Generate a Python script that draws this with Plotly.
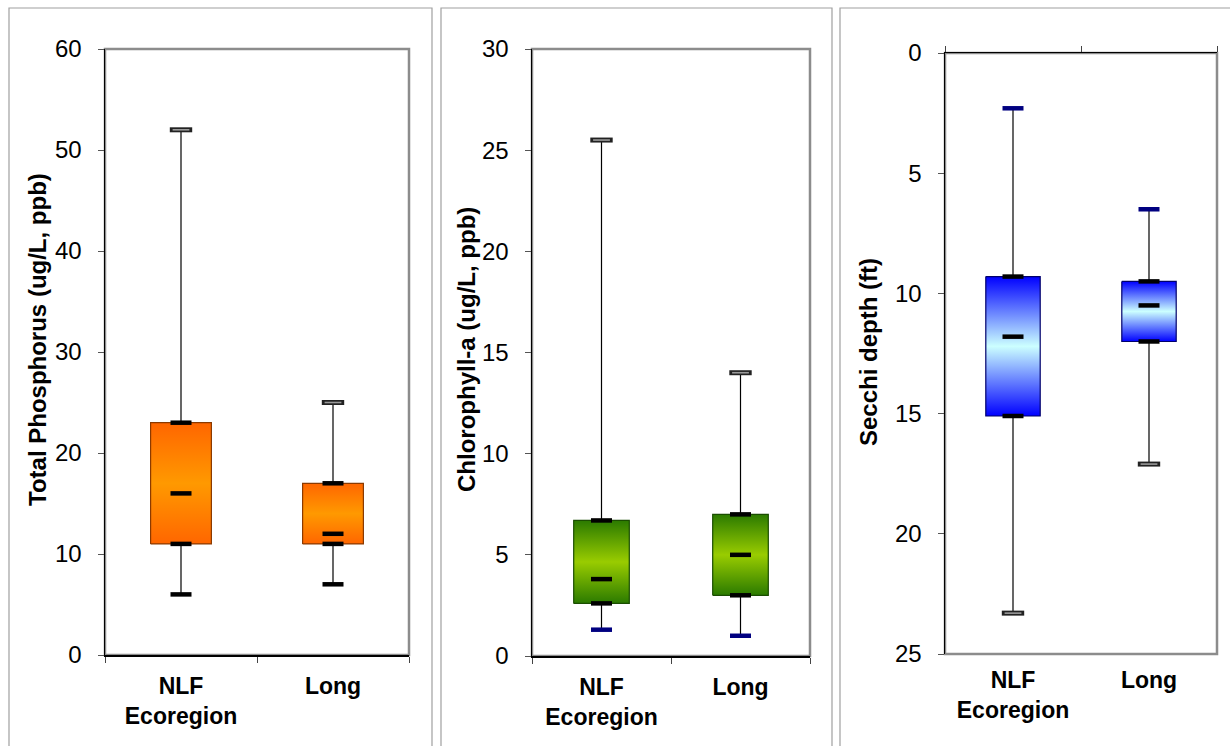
import plotly.graph_objects as go

W, H = 1230, 746

categories = ["<b>NLF</b><br><b>Ecoregion</b>", "<b>Long</b>"]

tp_min = [6, 7]
tp_q1 = [11, 11]
tp_med = [16, 12]
tp_q3 = [23, 17]
tp_max = [52, 25]

chl_min = [1.3, 1.0]
chl_q1 = [2.6, 3.0]
chl_med = [3.8, 5.0]
chl_q3 = [6.7, 7.0]
chl_max = [25.5, 14.0]

sec_min = [2.3, 6.5]
sec_q1 = [9.3, 9.5]
sec_med = [11.8, 10.5]
sec_q3 = [15.1, 12.0]
sec_max = [23.3, 17.1]

titles = ["Total Phosphorus (ug/L, ppb)", "Chlorophyll-a (ug/L, ppb)", "Secchi depth (ft)"]

FONT = "Arial, Liberation Sans, sans-serif"
HALF = 0.2

fig = go.Figure()


def px_x(p):
    return p / W


def px_y(p):
    return 1 - p / H


panels = [
    dict(data=(tp_min, tp_q1, tp_med, tp_q3, tp_max), xd=(105, 409), yd=(49, 655),
         rng=[0, 60], dt=10, xa="x", ya="y",
         cs=[[0, "#FF6600"], [0.5, "#FF9900"], [1, "#FF6600"]], edge="#8B3A00",
         lowcol="#000000"),
    dict(data=(chl_min, chl_q1, chl_med, chl_q3, chl_max), xd=(532, 810), yd=(49, 656),
         rng=[0, 30], dt=5, xa="x2", ya="y2",
         cs=[[0, "#2B7A00"], [0.5, "#99CC00"], [1, "#2B7A00"]], edge="#1A4D00",
         lowcol="#000080"),
    dict(data=(sec_min, sec_q1, sec_med, sec_q3, sec_max), xd=(945, 1217), yd=(53, 654),
         rng=[25, 0], dt=5, xa="x3", ya="y3",
         cs=[[0, "#0000FF"], [0.5, "#CCFFFF"], [1, "#0000FF"]], edge="#00006B",
         lowcol="#000080"),
]

xs = list(range(len(categories)))

for k, p in enumerate(panels):
    mn, q1, md, q3, mx = p["data"]
    xa, ya = p["xa"], p["ya"]
    # whiskers
    for i in xs:
        fig.add_trace(go.Scatter(x=[i, i], y=[mn[i], mx[i]], mode="lines",
                                 line=dict(color="black", width=1.2),
                                 xaxis=xa, yaxis=ya, showlegend=False, hoverinfo="skip"))
    # boxes
    for i in xs:
        fig.add_trace(go.Scatter(
            x=[i - HALF, i + HALF, i + HALF, i - HALF, i - HALF],
            y=[q1[i], q1[i], q3[i], q3[i], q1[i]],
            mode="lines", fill="toself",
            fillgradient=dict(type="vertical", colorscale=p["cs"]),
            line=dict(color=p["edge"], width=1.2),
            xaxis=xa, yaxis=ya, showlegend=False, hoverinfo="skip"))
    # solid dashes: q1, median, q3
    fig.add_trace(go.Scatter(x=xs + xs + xs, y=list(q1) + list(md) + list(q3), mode="markers",
                             marker=dict(symbol="line-ew", size=15,
                                         line=dict(color="black", width=4.5)),
                             xaxis=xa, yaxis=ya, showlegend=False, hoverinfo="skip"))
    # low-end caps
    fig.add_trace(go.Scatter(x=xs, y=mn, mode="markers",
                             marker=dict(symbol="line-ew", size=15,
                                         line=dict(color=p["lowcol"], width=4.5)),
                             xaxis=xa, yaxis=ya, showlegend=False, hoverinfo="skip"))
    # hollow caps at the far end
    fig.add_trace(go.Scatter(x=xs, y=mx, mode="markers",
                             marker=dict(symbol="line-ew", size=16,
                                         line=dict(color="#222222", width=5)),
                             xaxis=xa, yaxis=ya, showlegend=False, hoverinfo="skip"))
    fig.add_trace(go.Scatter(x=xs, y=mx, mode="markers",
                             marker=dict(symbol="line-ew", size=12,
                                         line=dict(color="#9a9a9a", width=1.6)),
                             xaxis=xa, yaxis=ya, showlegend=False, hoverinfo="skip"))

# invisible trace to anchor overlay top axis in panel 3
fig.add_trace(go.Scatter(x=[0], y=[0], mode="markers", marker=dict(opacity=0),
                         xaxis="x4", yaxis="y3", showlegend=False, hoverinfo="skip"))

layout = dict(width=W, height=H, margin=dict(l=0, r=0, t=0, b=0, pad=0, autoexpand=False),
              paper_bgcolor="white", plot_bgcolor="white", showlegend=False,
              hovermode=False, font=dict(family=FONT, color="black"))

shapes = []
annotations = []
for k, p in enumerate(panels):
    n = "" if k == 0 else str(k + 1)
    xd = [px_x(p["xd"][0]), px_x(p["xd"][1])]
    yd = [px_y(p["yd"][1]), px_y(p["yd"][0])]
    rev = k == 2
    layout["xaxis" + n] = dict(
        domain=xd, anchor="y" + n, range=[-0.5, 1.5], tickmode="array",
        tickvals=xs, ticktext=categories, ticks="", showgrid=False, zeroline=False,
        showline=not rev, linecolor="black", linewidth=1.5, automargin=False,
        tickfont=dict(family=FONT, size=23, color="black"),
        ticklabelstandoff=10,
        minor=dict(tickmode="array", tickvals=[-0.5, 0.5, 1.5], ticks="" if rev else "outside",
                   ticklen=6, tickcolor="#444", showgrid=False),
        fixedrange=True)
    layout["yaxis" + n] = dict(
        domain=yd, anchor="x" + n, range=p["rng"], dtick=p["dt"], tick0=0,
        ticks="outside", ticklen=6, tickcolor="#555", showgrid=False, zeroline=False,
        showline=True, linecolor="black", linewidth=1.5, automargin=False,
        tickfont=dict(family=FONT, size=24, color="black"),
        ticklabelstandoff=11, fixedrange=True)
    # grey plot frame
    shapes.append(dict(type="rect", xref="x" + n + " domain", yref="y" + n + " domain",
                       x0=0, x1=1, y0=0, y1=1, line=dict(color="#8c8c8c", width=2.5),
                       layer="below"))
    # title
    tx = [37, 466, 868][k]
    ty = [340, 350, 352][k]
    annotations.append(dict(text="<b>" + titles[k] + "</b>", textangle=-90,
                            x=px_x(tx), y=px_y(ty), xref="paper", yref="paper",
                            xanchor="center", yanchor="middle", showarrow=False,
                            font=dict(family=FONT, size=24, color="black")))

layout["xaxis4"] = dict(overlaying="x3", side="top", anchor="y3", range=[-0.5, 1.5],
                        showticklabels=False, ticks="", showgrid=False, zeroline=False,
                        showline=True, linecolor="black", linewidth=1.5, automargin=False,
                        tickvals=xs,
                        minor=dict(tickmode="array", tickvals=[-0.5, 0.5, 1.5], ticks="outside",
                                   ticklen=6, tickcolor="#444", showgrid=False),
                        fixedrange=True)

# outer panel frames
for (x0, x1) in [(9, 432), (441, 832), (840, 1240)]:
    shapes.append(dict(type="rect", xref="paper", yref="paper",
                       x0=px_x(x0), x1=px_x(x1), y0=-0.1, y1=px_y(8),
                       line=dict(color="#a0a0a0", width=1.2), layer="below"))

layout["shapes"] = shapes
layout["annotations"] = annotations
fig.update_layout(**layout)

fig.write_html("out.html", config={"displayModeBar": False, "staticPlot": True})
